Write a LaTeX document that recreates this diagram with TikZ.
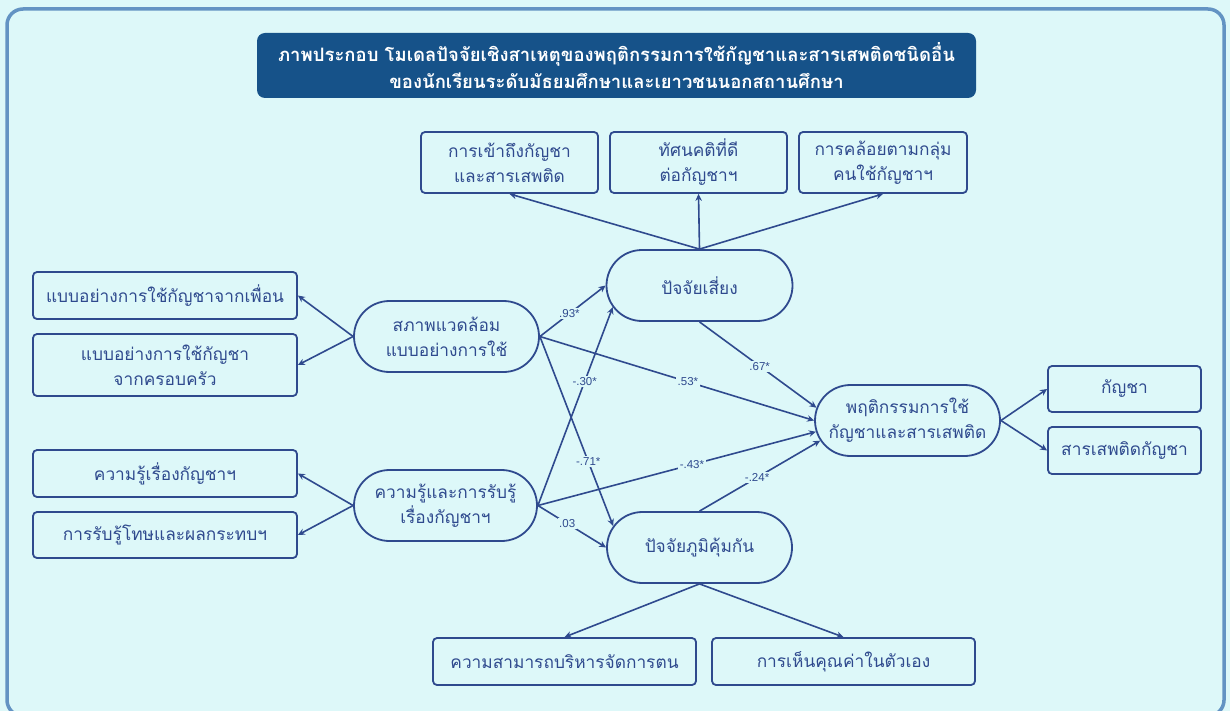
\documentclass[tikz,border=0pt]{standalone}
\usepackage{fontspec}
\setmainfont{Liberation Sans}
\newfontfamily\thai[Script=Thai]{Loma}
\usetikzlibrary{arrows.meta,shapes.misc}
\definecolor{bg}{HTML}{DDF8F9}
\definecolor{framec}{HTML}{6393C3}
\definecolor{ttl}{HTML}{165289}
\definecolor{ink}{HTML}{2F4A8E}
\begin{document}
\begin{tikzpicture}[x=1pt,y=-1pt,
  box/.style={draw=ink, line width=1.8pt, rounded corners=4pt, text=ink,
    font=\thai\fontsize{17.3}{25}\selectfont, align=center, inner sep=0pt},
  stad/.style={draw=ink, line width=1.8pt, rounded rectangle, text=ink,
    minimum height=71pt, font=\thai\fontsize{17.3}{25}\selectfont, align=center, inner sep=0pt},
  arr/.style={draw=ink, line width=1.6pt, -{Stealth[length=7pt,width=6.5pt]}},
  lab/.style={fill=bg, text=ink, font=\fontsize{11.5}{13}\selectfont, inner sep=1.5pt}
]
\useasboundingbox (0,0) rectangle (1230,711);
\fill[bg] (0,0) rectangle (1230,711);
\draw[framec, line width=3.5pt, rounded corners=16pt] (7,9) rectangle (1224,716);

% title
\node[fill=ttl, rounded corners=8pt, minimum width=719pt, minimum height=65pt, text=white,
  font=\thai\bfseries\fontsize{18.5}{27}\selectfont, align=center, inner sep=0pt] (title) at (616.5,65.5)
  {ภาพประกอบ โมเดลปัจจัยเชิงสาเหตุของพฤติกรรมการใช้กัญชาและสารเสพติดชนิดอื่น\\ของนักเรียนระดับมัธยมศึกษาและเยาวชนนอกสถานศึกษา};

% top boxes
\node[box, minimum width=177pt, minimum height=61pt] (A) at (509.5,162.5) {การเข้าถึงกัญชา\\และสารเสพติด};
\node[box, minimum width=177pt, minimum height=61pt] (B) at (698.5,162.5) {ทัศนคติที่ดี\\ต่อกัญชาฯ};
\node[box, minimum width=168pt, minimum height=61pt] (C) at (883,162.5) {การคล้อยตามกลุ่ม\\คนใช้กัญชาฯ};

% left boxes
\node[box, minimum width=264pt, minimum height=47pt] (L1) at (165,295.5) {แบบอย่างการใช้กัญชาจากเพื่อน};
\node[box, minimum width=264pt, minimum height=62pt] (L2) at (165,365) {แบบอย่างการใช้กัญชา\\จากครอบครัว};
\node[box, minimum width=264pt, minimum height=47pt] (L3) at (165,473.5) {ความรู้เรื่องกัญชาฯ};
\node[box, minimum width=264pt, minimum height=46pt] (L4) at (165,535) {การรับรู้โทษและผลกระทบฯ};

% right boxes
\node[box, minimum width=153pt, minimum height=46pt] (R1) at (1124.5,389) {กัญชา};
\node[box, minimum width=153pt, minimum height=47pt] (R2) at (1124.5,450.5) {สารเสพติดกัญชา};

% bottom boxes
\node[box, minimum width=263pt, minimum height=47pt] (B1) at (564.5,661.5) {ความสามารถบริหารจัดการตน};
\node[box, minimum width=263pt, minimum height=47pt] (B2) at (843.5,661.5) {การเห็นคุณค่าในตัวเอง};

% latent variables
\node[stad, minimum width=186pt] (risk) at (699.5,285.5) {ปัจจัยเสี่ยง};
\node[stad, minimum width=185pt] (env) at (446.5,336.5) {สภาพแวดล้อม\\แบบอย่างการใช้};
\node[stad, minimum width=183pt] (know) at (445.5,505.5) {ความรู้และการรับรู้\\เรื่องกัญชาฯ};
\node[stad, minimum width=185pt] (prot) at (699.5,547.5) {ปัจจัยภูมิคุ้มกัน};
\node[stad, minimum width=185pt] (beh) at (907.5,420.5) {พฤติกรรมการใช้\\กัญชาและสารเสพติด};

% measurement arrows
\draw[arr] (risk.north) -- (A.south);
\draw[arr] (risk.north) -- (B.south);
\draw[arr] (risk.north) -- (C.south);
\draw[arr] (env.west) -- (L1.east);
\draw[arr] (env.west) -- (L2.east);
\draw[arr] (know.west) -- (L3.east);
\draw[arr] (know.west) -- (L4.east);
\draw[arr] (beh.east) -- (R1.west);
\draw[arr] (beh.east) -- (R2.west);
\draw[arr] (prot.south) -- (B1.north);
\draw[arr] (prot.south) -- (B2.north);

% structural arrows
\draw[arr] (env.east) -- node[lab, pos=0.45] {.93*} (risk.west);
\draw[arr] (env.east) -- node[lab, pos=0.54] {.53*} (beh.west);
\draw[arr] (env.east) -- node[lab, pos=0.66] {-.71*} (prot.166);
\draw[arr] (know.east) -- node[lab, pos=0.625] {-.30*} (risk.194);
\draw[arr] (know.east) -- node[lab, pos=0.554] {-.43*} (beh.187);
\draw[arr] (know.east) -- node[lab, pos=0.43] {.03} (prot.west);
\draw[arr] (risk.south) -- node[lab, pos=0.515] {.67*} (beh.172);
\draw[arr] (prot.north) -- node[lab, pos=0.477] {-.24*} (beh.193);
\end{tikzpicture}
\end{document}
